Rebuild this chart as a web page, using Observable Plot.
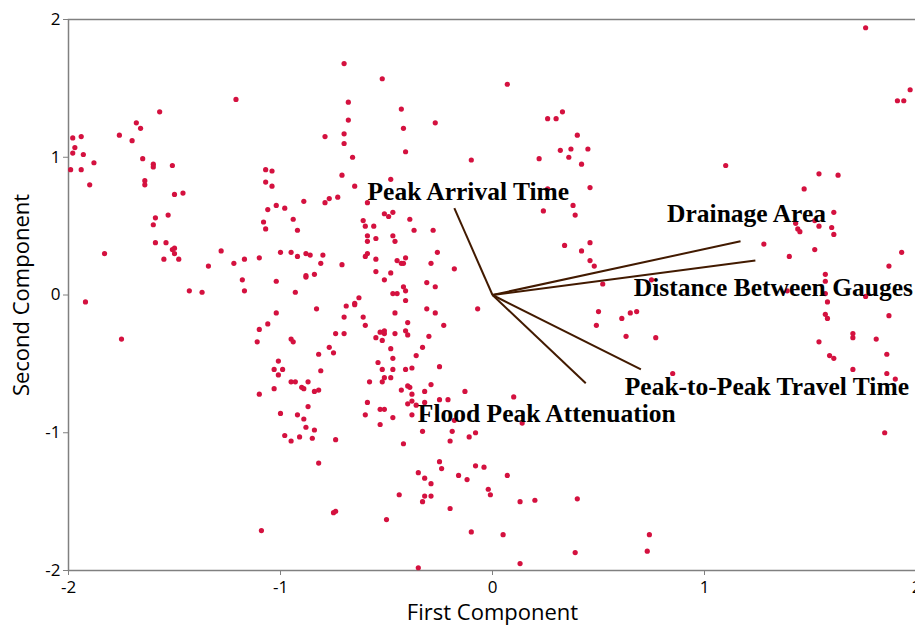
<!DOCTYPE html>
<html>
<head>
<meta charset="utf-8">
<script src="https://cdn.jsdelivr.net/npm/d3@7"></script>
<script src="https://cdn.jsdelivr.net/npm/@observablehq/plot@0.6"></script>
<style>
  html, body { margin: 0; padding: 0; background: #fff; overflow: hidden; }
  #chart { width: 915px; height: 625px; overflow: hidden; }
  #chart svg { max-width: none !important; }
</style>
</head>
<body>
<div id="chart"></div>
<script>
// Principal component scores (First Component, Second Component)
const pcX = [
 -1.21,-1.99,-1.98,-1.97,-1.98,-1.94,-1.93,-1.94,-1.88,-1.90,-1.83,-1.92,-1.76,-1.70,-1.68,-1.66,-1.57,-1.65,-1.60,-1.60,
 -1.64,-1.64,-1.51,-1.50,-1.46,-1.59,-1.60,-1.53,-1.59,-1.54,-1.55,-1.51,-1.50,-1.50,-1.48,-1.43,-1.37,-1.34,-1.28,-1.22,
 -1.17,-1.18,-1.17,-1.10,-1.07,-1.04,-1.07,-1.04,-1.06,-1.02,-0.98,-0.94,-0.92,-1.08,-1.07,-1.00,-0.95,-0.92,-1.02,-0.93,
 -1.02,-0.66,-0.71,-0.65,-0.89,-0.77,-0.79,-0.73,-0.59,-0.61,-0.60,-0.59,-0.59,-0.88,-0.86,-0.80,-0.81,-0.71,-0.59,-0.60,
 -0.88,-0.88,-0.84,-0.63,-0.70,-0.52,-0.68,-0.68,-0.70,-0.70,-0.79,-0.43,-0.42,-0.41,-0.27,0.07,-0.10,-0.48,-0.51,-0.49,
 -0.47,-0.56,-0.39,-0.37,-0.28,-0.55,-0.47,-0.46,-0.55,-0.45,-0.43,-0.42,-0.41,-0.26,-0.29,-0.18,-0.83,-0.69,-0.65,-0.65,
 -0.70,-0.61,-0.55,-0.51,-0.48,-0.42,-0.41,-0.41,-0.47,-0.45,-0.46,-0.31,-0.27,-0.31,-0.27,-0.07,0.26,0.30,0.33,0.40,
 0.32,0.37,0.36,0.45,0.42,0.22,0.46,0.38,0.39,0.24,0.34,0.42,0.46,0.46,0.48,0.50,0.26,0.52,0.75,1.76,
 1.97,1.91,1.94,1.10,1.54,1.63,1.47,1.61,1.43,1.44,1.45,1.52,1.54,1.60,1.61,1.28,1.52,1.40,1.93,1.87,
 1.57,1.57,1.57,1.58,1.39,1.76,0.61,0.65,0.68,1.57,1.58,1.87,1.54,1.70,1.70,1.81,1.59,1.61,1.86,1.70,
 1.86,1.90,0.49,0.63,0.77,0.85,1.85,0.74,0.73,-1.75,-1.06,-1.10,-1.11,-0.95,-0.94,-1.01,-1.03,-0.99,-1.01,-0.95,
 -0.93,-1.03,-1.10,-1.00,-0.92,-0.98,-0.95,-0.91,-1.09,-0.60,-0.74,-0.70,-0.82,-0.77,-0.75,-0.81,-0.87,-0.90,-0.89,-0.84,
 -0.82,-0.58,-0.59,-0.60,-0.87,-0.89,-0.88,-0.84,-0.85,-0.74,-0.40,-0.41,-0.40,-0.23,-0.30,-0.33,-0.53,-0.51,-0.51,-0.52,
 -0.55,-0.46,-0.48,-0.36,-0.47,-0.54,-0.52,-0.51,-0.52,-0.47,-0.48,-0.41,-0.38,-0.25,-0.43,-0.40,-0.39,-0.38,-0.32,-0.29,
 -0.13,-0.25,-0.21,-0.32,-0.38,-0.36,-0.53,-0.51,-0.53,-0.47,-0.38,-0.18,-0.33,-0.42,-0.19,-0.20,-0.11,-0.08,0.10,0.14,
 -0.82,-0.25,-0.24,-0.35,-0.32,-0.29,-0.16,-0.12,-0.08,-0.04,0.07,-0.02,-0.01,-0.44,-0.32,-0.33,-0.29,-0.20,0.13,0.20,
 0.40,-0.75,-0.74,-0.50,-0.10,0.05,0.39,0.13,-0.35,-0.40
];
const pcY = [
 1.42,0.91,1.14,1.07,1.03,1.15,1.02,0.91,0.96,0.80,0.30,-0.05,1.16,1.12,1.25,1.21,1.33,0.99,0.95,0.93,
 0.83,0.80,0.94,0.73,0.74,0.56,0.51,0.58,0.38,0.38,0.26,0.33,0.34,0.30,0.26,0.03,0.02,0.21,0.32,0.23,
 0.26,0.11,0.03,0.27,0.91,0.90,0.82,0.79,0.62,0.65,0.63,0.55,0.47,0.53,0.48,0.31,0.31,0.28,0.10,0.02,
 -0.13,1.00,0.87,0.79,0.68,0.70,0.67,0.71,0.67,0.54,0.50,0.43,0.39,0.30,0.29,0.29,0.23,0.22,0.30,0.28,
 0.14,0.13,0.15,-0.02,1.68,1.57,1.40,1.27,1.17,1.10,1.15,1.35,1.21,1.04,1.25,1.53,0.98,0.84,0.59,0.57,
 0.60,0.50,0.55,0.47,0.47,0.41,0.43,0.39,0.26,0.25,0.23,0.23,0.27,0.31,0.23,0.19,-0.10,-0.08,-0.07,-0.06,
 -0.16,-0.16,0.17,0.11,0.16,0.06,0.03,-0.04,0.01,0.01,-0.13,0.09,0.06,-0.10,-0.13,-0.10,1.28,1.28,1.33,1.16,
 1.05,1.06,1.00,1.06,0.95,0.99,0.78,0.65,0.58,0.61,0.36,0.32,0.38,0.25,0.21,-0.12,0.77,0.08,0.11,1.94,
 1.49,1.41,1.41,0.94,0.88,0.87,0.77,0.60,0.52,0.48,0.46,0.54,0.50,0.49,0.44,0.37,0.33,0.28,0.31,0.21,
 0.15,0.10,0.01,-0.05,0.03,-0.01,-0.17,-0.13,-0.12,-0.14,-0.17,-0.15,-0.34,-0.28,-0.31,-0.32,-0.44,-0.46,-0.43,-0.54,
 -0.57,-0.61,-0.22,-0.30,-0.31,-0.57,-1.00,-1.74,-1.86,-0.32,-0.21,-0.25,-0.34,-0.32,-0.34,-0.48,-0.54,-0.54,-0.58,-0.63,
 -0.63,-0.68,-0.72,-0.86,-0.87,-1.02,-1.06,-1.03,-1.71,-0.22,-0.28,-0.28,-0.43,-0.38,-0.42,-0.55,-0.63,-0.67,-0.68,-0.70,
 -0.69,-0.63,-0.78,-0.87,-0.81,-0.90,-0.96,-0.98,-1.04,-1.05,-0.20,-0.26,-0.29,-0.22,-0.30,-0.38,-0.27,-0.26,-0.28,-0.33,
 -0.31,-0.28,-0.39,-0.44,-0.46,-0.49,-0.54,-0.60,-0.63,-0.54,-0.60,-0.54,-0.53,-0.52,-0.69,-0.66,-0.67,-0.72,-0.70,-0.65,
 -0.70,-0.76,-0.76,-0.78,-0.77,-0.80,-0.83,-0.83,-0.94,-0.89,-0.87,-0.91,-0.99,-1.08,-0.99,-1.06,-1.03,-1.00,-0.74,-0.93,
 -1.22,-1.21,-1.26,-1.29,-1.33,-1.37,-1.31,-1.34,-1.24,-1.25,-1.31,-1.41,-1.45,-1.45,-1.46,-1.50,-1.46,-1.55,-1.50,-1.49,
 -1.48,-1.58,-1.57,-1.63,-1.72,-1.74,-1.87,-1.95,-1.98,-0.79
];

// Variable loadings (biplot vectors)
const loadNames = ["Peak Arrival Time", "Drainage Area", "Distance Between Gauges", "Peak-to-Peak Travel Time", "Flood Peak Attenuation"];
const loadX = [-0.18, 1.17, 1.24, 0.70, 0.44];
const loadY = [0.63, 0.39, 0.25, -0.54, -0.64];

// Axis ticks
const ticks = [-2, -1, 0, 1, 2];

// Layout of the vector labels relative to the vector tips (pixels)
const labelOffsets = [[14, -16], [6, -27], [18, 27], [126, 17], [-39, 31]];

const scores = pcX.map((x, i) => ({x, y: pcY[i]}));
const loads = loadNames.map((name, i) => ({name, x: loadX[i], y: loadY[i]}));

const sans = "'Open Sans', 'Noto Sans', sans-serif";
const serif = "'Liberation Serif', 'Times New Roman', serif";

const chart = Plot.plot({
  width: 920,
  height: 625,
  marginLeft: 68,
  marginRight: 4,
  marginTop: 19,
  marginBottom: 55,
  style: {background: "#fff", fontFamily: sans, color: "#000", maxWidth: "none"},
  x: {domain: [-2, 2]},
  y: {domain: [-2, 2]},
  marks: [
    Plot.frame({stroke: "#808080", strokeWidth: 1.5}),
    Plot.axisY({ticks, tickSize: 5, tickPadding: 3, fontSize: 17, label: null, tickFormat: d => String(d), stroke: "#808080", fill: "#000"}),
    Plot.axisX({ticks, tickSize: 5, tickPadding: 5, fontSize: 17, label: null, tickFormat: d => String(d), stroke: "#808080", fill: "#000"}),
    Plot.text(["Second Component"], {text: d => d, frameAnchor: "left", dx: -47, rotate: -90, textAnchor: "middle", lineAnchor: "middle", fontSize: 22, fill: "#000"}),
    Plot.text(["First Component"], {text: d => d, frameAnchor: "bottom", dy: 42, textAnchor: "middle", lineAnchor: "middle", fontSize: 22, fill: "#000"}),
    Plot.dot(scores, {x: "x", y: "y", r: 2.6, fill: "#d4113f", stroke: "none"}),
    Plot.link(loads, {x1: () => 0, y1: () => 0, x2: "x", y2: "y", stroke: "#421a00", strokeWidth: 2}),
    ...loads.map((d, i) => Plot.text([d], {
      x: "x", y: "y", text: "name",
      dx: labelOffsets[i][0], dy: labelOffsets[i][1],
      textAnchor: "middle", lineAnchor: "middle",
      fontFamily: serif, fontWeight: "bold", fontSize: 25.5, fill: "#000"
    }))
  ]
});
document.getElementById("chart").append(chart);
</script>
</body>
</html>
